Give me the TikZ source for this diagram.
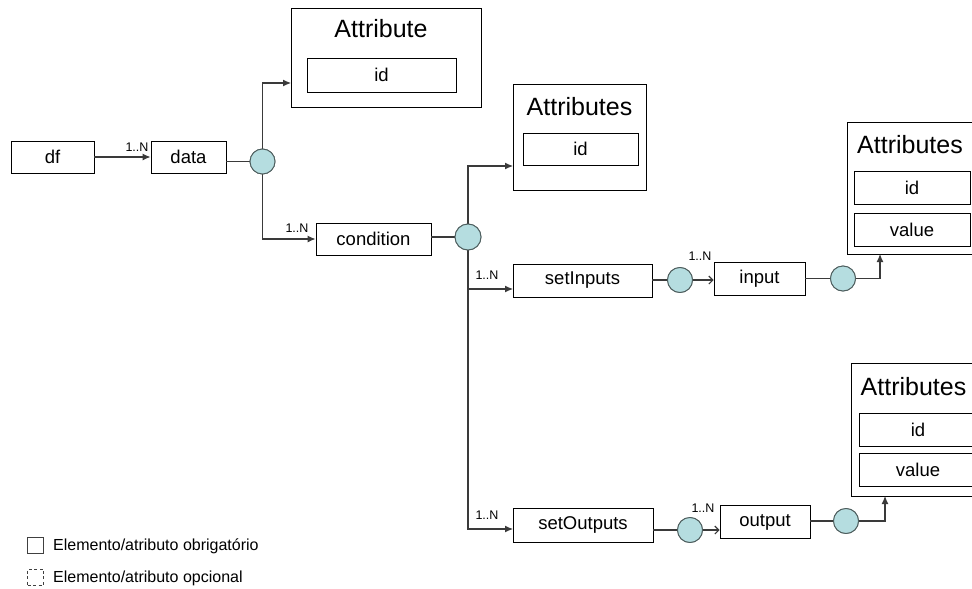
\documentclass[tikz,border=0pt]{standalone}
\usepackage{fontspec}
\setmainfont{Liberation Sans}
\usetikzlibrary{arrows.meta}

\definecolor{linegray}{HTML}{3A3A3A}
\definecolor{knot}{HTML}{B5DDE0}
\definecolor{knotrim}{HTML}{4E5E5E}

\tikzset{
  elem/.style={draw=black, line width=0.9pt, inner sep=0pt, fill=white,
    font=\fontsize{18.5}{20}\selectfont},
  group/.style={draw=black, line width=0.9pt, inner sep=0pt, fill=white},
  grouptitle/.style={anchor=base, inner sep=0pt, font=\fontsize{25}{27}\selectfont},
  knotc/.style={circle, draw=knotrim, line width=0.9pt, fill=knot,
    minimum size=25pt, inner sep=0pt},
  link/.style={draw=linegray, line width=1.1pt},
  arr/.style={link, -{Latex[length=8pt,width=7pt]}},
  oarr/.style={link, -{Straight Barb[length=4pt,width=8pt]}},
  card/.style={inner sep=0pt, font=\fontsize{12.5}{13}\selectfont},
  legendtxt/.style={anchor=west, inner sep=0pt, font=\fontsize{16}{18}\selectfont}
}

\begin{document}
\begin{tikzpicture}[x=1pt, y=-1pt]
\fill[white] (0,0) rectangle (972,589);
\useasboundingbox (0,0) rectangle (972,589);

% attribute groups
\node[group, minimum width=190pt, minimum height=99pt] (attr1) at (386,57.5) {};
\node[grouptitle] (attr1t) at (381,37) {Attribute};
\node[elem, minimum width=149pt, minimum height=34pt] (attr1id) at (381.5,75) {id};

\node[group, minimum width=133pt, minimum height=106pt] (attr2) at (579.5,137) {};
\node[grouptitle] (attr2t) at (579.5,115) {Attributes};
\node[elem, minimum width=115pt, minimum height=32pt] (attr2id) at (580.5,149) {id};

\node[group, minimum width=138pt, minimum height=132pt] (attr3) at (916,188) {};
\node[grouptitle] (attr3t) at (910,153) {Attributes};
\node[elem, minimum width=116pt, minimum height=33pt] (attr3id) at (912,187.5) {id};
\node[elem, minimum width=116pt, minimum height=33pt] (attr3val) at (912,229.5) {value};

\node[group, minimum width=134pt, minimum height=133pt] (attr4) at (918,429.5) {};
\node[grouptitle] (attr4t) at (913.5,395) {Attributes};
\node[elem, minimum width=118pt, minimum height=33pt] (attr4id) at (918,429.5) {id};
\node[elem, minimum width=118pt, minimum height=33pt] (attr4val) at (918,469.5) {value};

% elements
\node[elem, minimum width=83pt, minimum height=32pt] (df) at (52.5,157) {df};
\node[elem, minimum width=75pt, minimum height=32pt] (data) at (188.5,157) {data};
\node[elem, minimum width=115pt, minimum height=32pt] (condition) at (373.5,239) {condition};
\node[elem, minimum width=139pt, minimum height=33pt] (setInputs) at (582.5,280.5) {setInputs};
\node[elem, minimum width=91pt, minimum height=33pt] (input) at (759.5,278.5) {input};
\node[elem, minimum width=140pt, minimum height=34pt] (setOutputs) at (583,525) {setOutputs};
\node[elem, minimum width=90pt, minimum height=33pt] (output) at (765,522) {output};

% sequence knots
\node[knotc] (c1) at (262.5,161.5) {};
\node[knotc, minimum size=26pt] (c2) at (468,237) {};
\node[knotc] (c3) at (680,280) {};
\node[knotc] (c4) at (843,278.5) {};
\node[knotc] (c5) at (690,530) {};
\node[knotc] (c6) at (846,521) {};

% entry points on the group frames
\coordinate (a1in) at (291,83);
\coordinate (a2in) at (513,166);
\coordinate (a3in) at (880,254);
\coordinate (a4in) at (885,496);
\coordinate (siin) at (513,289);
\coordinate (soin) at (513,529);

% connectors
\draw[arr] (df.east) -- (data.west);
\draw[link] (data.east |- c1) -- (c1);
\draw[arr] (c1.north) |- (a1in);
\draw[arr] (c1.south) |- (condition.west);
\draw[link] (condition.east |- c2) -- (c2);
\draw[arr] (c2.north) |- (a2in);
\draw[arr] (c2.south) |- (siin);
\draw[arr] (c2.south) |- (soin);
\draw[link] (setInputs.east |- c3) -- (c3);
\draw[oarr] (c3) -- (c3 -| input.west);
\draw[link] (input.east |- c4) -- (c4);
\draw[arr] (c4.east) -| (a3in);
\draw[link] (setOutputs.east |- c5) -- (c5);
\draw[oarr] (c5) -- (c5 -| output.west);
\draw[link] (output.east |- c6) -- (c6);
\draw[arr] (c6.east) -| (a4in);

% redraw knots above the lines
\foreach \k/\s in {c1/25, c2/26, c3/25, c4/25, c5/25, c6/25}
  \node[knotc, minimum size=\s pt] at (\k) {};

% cardinalities
\node[card] (n1) at (137,147) {1..N};
\node[card] (n2) at (297,228) {1..N};
\node[card] (n3) at (487,275) {1..N};
\node[card] (n4) at (700,256) {1..N};
\node[card] (n5) at (487,515) {1..N};
\node[card] (n6) at (703,508) {1..N};

% legend
\node[draw=black!75, line width=0.9pt, minimum size=16pt, inner sep=0pt] (lg1) at (35.5,545) {};
\node[legendtxt] (lg1t) at (53,546) {Elemento/atributo obrigatório};
\node[draw=black!75, dash pattern=on 3pt off 2.5pt, line width=0.9pt, minimum size=16pt, inner sep=0pt] (lg2) at (35.5,577) {};
\node[legendtxt] (lg2t) at (53,578) {Elemento/atributo opcional};
\end{tikzpicture}
\end{document}
